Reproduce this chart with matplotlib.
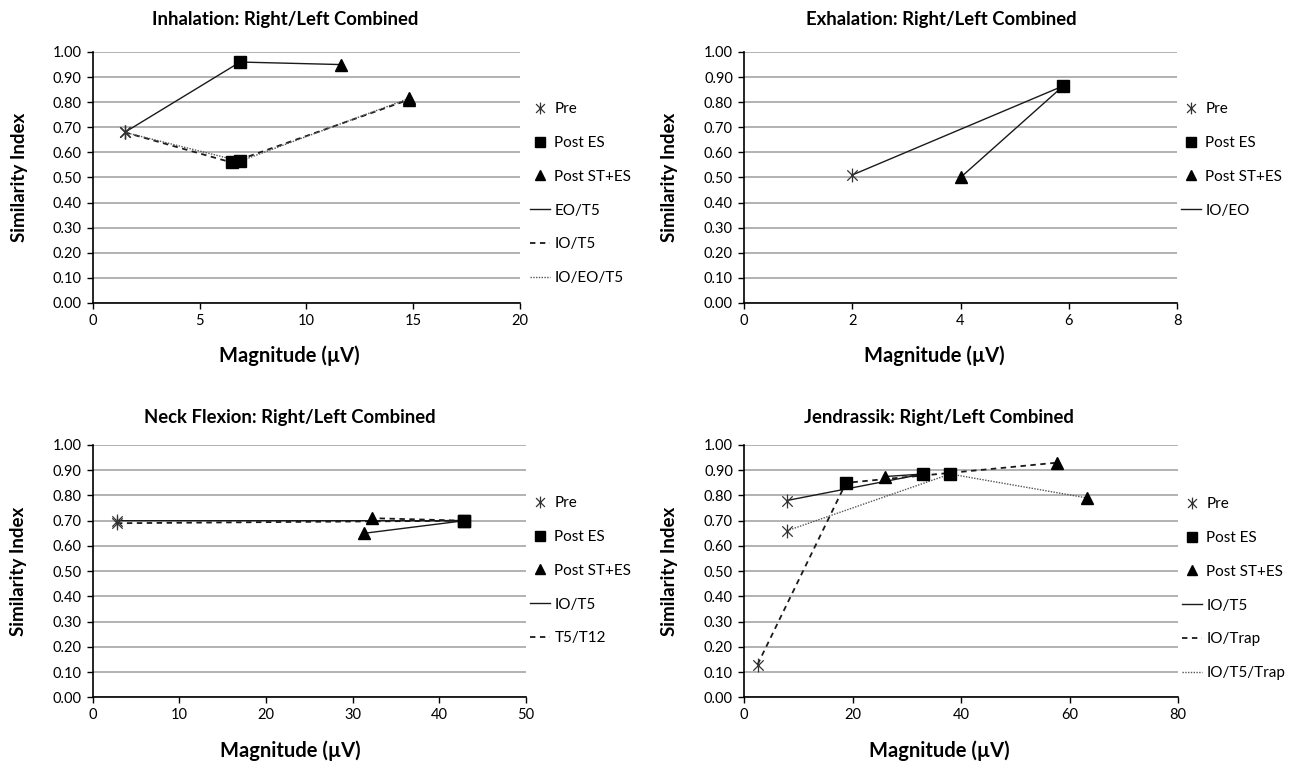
import numpy as np
import matplotlib
matplotlib.use("Agg")
from matplotlib import pyplot as plt
from matplotlib.lines import Line2D
from matplotlib.path import Path

plt.rcParams['font.family'] = ['Lato', 'DejaVu Sans']

# each line series: points in order Pre, Post ES, Post ST+ES
# Inhalation
inh_eo_t5_x = [1.5, 6.9, 11.6]
inh_eo_t5_y = [0.68, 0.96, 0.95]
inh_io_t5_x = [1.5, 6.5, 14.8]
inh_io_t5_y = [0.68, 0.56, 0.81]
inh_io_eo_t5_x = [1.5, 6.9, 14.8]
inh_io_eo_t5_y = [0.68, 0.565, 0.815]

# Exhalation
exh_io_eo_x = [2.0, 5.9, 4.0]
exh_io_eo_y = [0.51, 0.865, 0.50]

# Neck flexion
neck_io_t5_x = [2.8, 42.9, 31.3]
neck_io_t5_y = [0.70, 0.70, 0.65]
neck_t5_t12_x = [2.8, 42.9, 32.2]
neck_t5_t12_y = [0.69, 0.70, 0.71]

# Jendrassik
jen_io_t5_x = [7.9, 33.0, 26.0]
jen_io_t5_y = [0.78, 0.885, 0.875]
jen_io_trap_x = [2.5, 18.8, 57.7]
jen_io_trap_y = [0.13, 0.85, 0.93]
jen_io_t5_trap_x = [7.9, 38.0, 63.3]
jen_io_t5_trap_y = [0.66, 0.885, 0.79]

W, H = 1290, 766
fig = plt.figure(figsize=(W / 100, H / 100), dpi=100)

# excel style asterisk: vertical bar + X
star = Path([(0, -1), (0, 1), (-0.75, -0.75), (0.75, 0.75), (-0.75, 0.75), (0.75, -0.75)],
            [Path.MOVETO, Path.LINETO] * 3)

STYLES = {
    'solid': dict(color='#1a1a1a', lw=1.0, ls='-'),
    'dash': dict(color='#1a1a1a', lw=1.3, ls=(0, (3, 2.5))),
    'dot': dict(color='#555555', lw=1.0, ls=(0, (1, 1))),
}
MARKERS = [
    ('Pre', dict(marker=star, ms=10, mec='#333333', mew=0.9, mfc='none')),
    ('Post ES', dict(marker='s', ms=8.5, mec='black', mfc='black')),
    ('Post ST+ES', dict(marker='^', ms=9, mec='black', mfc='black')),
]


def px_rect(left, top, right, bottom):
    return [left / W, 1 - bottom / H, (right - left) / W, (bottom - top) / H]


def panel(rect, title, xmax, xstep, series, leg_xy, title_x, xlabel_x, title_y):
    ax = fig.add_axes(px_rect(*rect))
    ax.set_xlim(0, xmax)
    ax.set_ylim(0, 1.0)
    ax.set_xticks(np.arange(0, xmax + 0.01, xstep))
    ax.set_yticks(np.arange(0, 1.001, 0.1))
    ax.set_yticklabels(['%.2f' % v for v in np.arange(0, 1.001, 0.1)])
    ax.grid(axis='y', color='#a6a6a6', lw=1.2)
    ax.set_axisbelow(True)
    for s in ['top', 'right']:
        ax.spines[s].set_visible(False)
    for s in ['left', 'bottom']:
        ax.spines[s].set_color('black')
        ax.spines[s].set_linewidth(1.2)
    ax.tick_params(direction='out', length=4, width=1, labelsize=10.5, colors='black', pad=4)

    handles, labels = [], []
    for x, y, style, name in series:
        ax.plot(x, y, zorder=2, **STYLES[style])
    # markers per time point
    for i, (mname, mkw) in enumerate(MARKERS):
        xs = [s[0][i] for s in series]
        ys = [s[1][i] for s in series]
        ax.plot(xs, ys, ls='none', zorder=3, **mkw)
        handles.append(Line2D([], [], ls='none', **mkw))
        labels.append(mname)
    for x, y, style, name in series:
        handles.append(Line2D([], [], **STYLES[style]))
        labels.append(name)

    ax.legend(handles, labels, loc='upper left',
              bbox_to_anchor=(leg_xy[0] / W, 1 - leg_xy[1] / H),
              bbox_transform=fig.transFigure, frameon=False, fontsize=11,
              labelspacing=1.3, handlelength=1.3, handletextpad=0.3,
              borderpad=0, borderaxespad=0, markerscale=0.85)

    ax.set_title(title, fontsize=13.3, fontweight='bold', x=title_x, y=title_y)
    ax.set_xlabel('Magnitude (\u00b5V)', fontsize=14.5, fontweight='bold')
    ax.xaxis.set_label_coords(xlabel_x, -0.17)
    ax.set_ylabel('Similarity Index', fontsize=13.5, fontweight='bold')
    ax.yaxis.set_label_coords(-0.152, 0.5)
    return ax


panel((92.7, 52, 520, 303), 'Inhalation: Right/Left Combined', 20, 5,
      [(inh_eo_t5_x, inh_eo_t5_y, 'solid', 'EO/T5'),
       (inh_io_t5_x, inh_io_t5_y, 'dash', 'IO/T5'),
       (inh_io_eo_t5_x, inh_io_eo_t5_y, 'dot', 'IO/EO/T5')],
      (530, 102), 0.45, 0.46, 1.075)

panel((744, 52, 1177, 303), 'Exhalation: Right/Left Combined', 8, 2,
      [(exh_io_eo_x, exh_io_eo_y, 'solid', 'IO/EO')],
      (1181, 102), 0.455, 0.44, 1.075)

panel((92.7, 445, 526, 697.3), 'Neck Flexion: Right/Left Combined', 50, 10,
      [(neck_io_t5_x, neck_io_t5_y, 'solid', 'IO/T5'),
       (neck_t5_t12_x, neck_t5_t12_y, 'dash', 'T5/T12')],
      (530, 496), 0.455, 0.455, 1.055)

panel((744, 445, 1178, 697.3), 'Jendrassik: Right/Left Combined', 80, 20,
      [(jen_io_t5_x, jen_io_t5_y, 'solid', 'IO/T5'),
       (jen_io_trap_x, jen_io_trap_y, 'dash', 'IO/Trap'),
       (jen_io_t5_trap_x, jen_io_t5_trap_y, 'dot', 'IO/T5/Trap')],
      (1182, 497), 0.45, 0.45, 1.055)

fig.savefig('out.png', dpi=100, facecolor='white')
